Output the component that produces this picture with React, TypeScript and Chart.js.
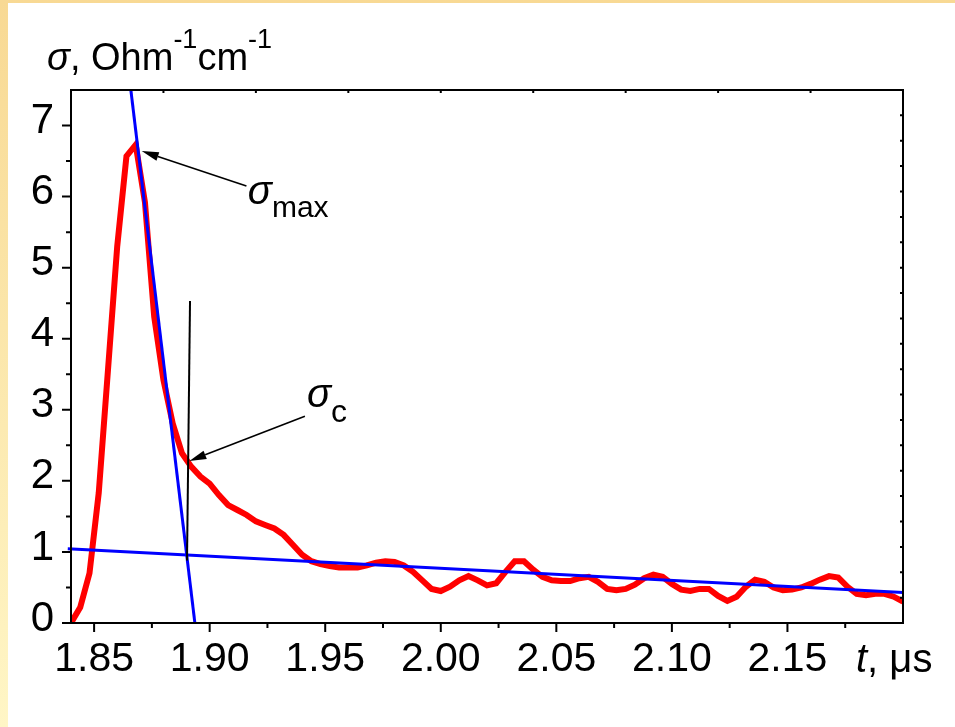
import React, { useEffect, useRef } from "react";
import { Chart, registerables } from "chart.js";

Chart.register(...registerables);

const FONT = "'Liberation Sans', Arial, Helvetica, sans-serif";

// Measured conductivity trace (time in microseconds, sigma in Ohm^-1 cm^-1)
const timeUs = [
  1.840, 1.844, 1.848, 1.852, 1.856, 1.860, 1.864, 1.868, 1.872, 1.876,
  1.880, 1.884, 1.888, 1.892, 1.896, 1.900, 1.904, 1.908, 1.912, 1.916,
  1.920, 1.924, 1.928, 1.932, 1.936, 1.940, 1.944, 1.948, 1.952, 1.956,
  1.960, 1.964, 1.968, 1.972, 1.976, 1.980, 1.984, 1.988, 1.992, 1.996,
  2.000, 2.004, 2.008, 2.012, 2.016, 2.020, 2.024, 2.028, 2.032, 2.036,
  2.040, 2.044, 2.048, 2.052, 2.056, 2.060, 2.064, 2.068, 2.072, 2.076,
  2.080, 2.084, 2.088, 2.092, 2.096, 2.100, 2.104, 2.108, 2.112, 2.116,
  2.120, 2.124, 2.128, 2.132, 2.136, 2.140, 2.144, 2.148, 2.152, 2.156,
  2.160, 2.164, 2.168, 2.172, 2.176, 2.180, 2.184, 2.188, 2.192, 2.196,
  2.200,
];
const sigma = [
  0.00, 0.22, 0.70, 1.83, 3.56, 5.30, 6.57, 6.73, 5.92, 4.31,
  3.42, 2.81, 2.39, 2.20, 2.06, 1.96, 1.80, 1.66, 1.59, 1.52,
  1.43, 1.38, 1.33, 1.24, 1.10, 0.96, 0.87, 0.83, 0.80, 0.78,
  0.78, 0.78, 0.81, 0.85, 0.87, 0.86, 0.81, 0.72, 0.60, 0.48,
  0.45, 0.51, 0.60, 0.66, 0.60, 0.53, 0.56, 0.72, 0.87, 0.87,
  0.75, 0.65, 0.60, 0.59, 0.59, 0.63, 0.65, 0.58, 0.48, 0.46,
  0.48, 0.54, 0.63, 0.68, 0.65, 0.55, 0.47, 0.45, 0.48, 0.48,
  0.38, 0.31, 0.37, 0.51, 0.61, 0.58, 0.50, 0.46, 0.47, 0.50,
  0.55, 0.61, 0.66, 0.64, 0.51, 0.41, 0.39, 0.41, 0.41, 0.37,
  0.30,
];

// Fitted straight lines
const steepFitT = [1.8659, 1.8936];
const steepFitS = [7.5, 0];
const tailFitT = [1.8386, 2.2];
const tailFitS = [1.045, 0.43];
// Black vertical marker line
const markerT = [1.8915, 1.8902];
const markerS = [4.53, 0.88];

// Axis ticks
const xTickValues = [1.85, 1.9, 1.95, 2.0, 2.05, 2.1, 2.15];
const xMinorTicks = [1.875, 1.925, 1.975, 2.025, 2.075, 2.125, 2.175];
const yTickValues = [0, 1, 2, 3, 4, 5, 6, 7];
const yMinorTicks = [0.5, 1.5, 2.5, 3.5, 4.5, 5.5, 6.5];
const topFrameTicks = [1.88, 1.92, 1.96, 2.0, 2.04, 2.08, 2.12, 2.16];
const rightFrameTicks = [
  0.357, 0.714, 1.071, 1.429, 1.786, 2.143, 2.5, 2.857, 3.214, 3.571,
  3.929, 4.286, 4.643, 5.0, 5.357, 5.714, 6.071, 6.429, 6.786, 7.143,
];

// Annotations (data coordinates: [t, sigma])
const arrowMaxTail = [1.9159, 6.15];
const arrowMaxTip = [1.8706, 6.64];
const arrowCTail = [1.9412, 2.91];
const arrowCTip = [1.8912, 2.28];
const labelMaxPos = [1.9165, 5.89];
const labelCPos = [1.9421, 3.04];

type Part = [string, string, number];

function rich(ctx: CanvasRenderingContext2D, x: number, y: number, parts: Part[]) {
  let cx = x;
  for (const [t, f, dy] of parts) {
    ctx.font = f;
    ctx.fillText(t, cx, y + dy);
    cx += ctx.measureText(t).width;
  }
}

function arrow(ctx: CanvasRenderingContext2D, x0: number, y0: number, x1: number, y1: number) {
  const ang = Math.atan2(y1 - y0, x1 - x0);
  const L = 17;
  const W = 4.5;
  const bx = x1 - L * Math.cos(ang);
  const by = y1 - L * Math.sin(ang);
  ctx.lineWidth = 1.6;
  ctx.beginPath();
  ctx.moveTo(x0, y0);
  ctx.lineTo(bx, by);
  ctx.stroke();
  ctx.beginPath();
  ctx.moveTo(x1, y1);
  ctx.lineTo(bx - W * Math.sin(ang), by + W * Math.cos(ang));
  ctx.lineTo(bx + W * Math.sin(ang), by - W * Math.cos(ang));
  ctx.closePath();
  ctx.fill();
}

const decor = {
  id: "decor",
  afterDatasetsDraw(chart: any) {
    const { ctx, chartArea: a, scales } = chart;
    const x = scales.x;
    const y = scales.y;
    ctx.save();
    ctx.strokeStyle = "#000";
    ctx.fillStyle = "#000";
    ctx.lineWidth = 2;
    ctx.lineCap = "butt";
    ctx.beginPath();
    ctx.rect(a.left, a.top, a.right - a.left, a.bottom - a.top);
    ctx.stroke();

    ctx.beginPath();
    for (const v of xTickValues) {
      const p = x.getPixelForValue(v);
      ctx.moveTo(p, a.bottom);
      ctx.lineTo(p, a.bottom + 9);
    }
    for (const v of xMinorTicks) {
      const p = x.getPixelForValue(v);
      ctx.moveTo(p, a.bottom);
      ctx.lineTo(p, a.bottom + 5);
    }
    for (const v of yTickValues) {
      const p = y.getPixelForValue(v);
      ctx.moveTo(a.left, p);
      ctx.lineTo(a.left - 9, p);
    }
    for (const v of yMinorTicks) {
      const p = y.getPixelForValue(v);
      ctx.moveTo(a.left, p);
      ctx.lineTo(a.left - 5, p);
    }
    for (const v of topFrameTicks) {
      const p = x.getPixelForValue(v);
      ctx.moveTo(p, a.top);
      ctx.lineTo(p, a.top + 3);
    }
    for (const v of rightFrameTicks) {
      const p = y.getPixelForValue(v);
      ctx.moveTo(a.right, p);
      ctx.lineTo(a.right - 3, p);
    }
    ctx.stroke();

    arrow(ctx,
      x.getPixelForValue(arrowMaxTail[0]), y.getPixelForValue(arrowMaxTail[1]),
      x.getPixelForValue(arrowMaxTip[0]), y.getPixelForValue(arrowMaxTip[1]));
    arrow(ctx,
      x.getPixelForValue(arrowCTail[0]), y.getPixelForValue(arrowCTail[1]),
      x.getPixelForValue(arrowCTip[0]), y.getPixelForValue(arrowCTip[1]));

    ctx.textAlign = "left";
    ctx.textBaseline = "alphabetic";
    rich(ctx, x.getPixelForValue(labelMaxPos[0]), y.getPixelForValue(labelMaxPos[1]), [
      ["σ", `italic 40px ${FONT}`, 0],
      ["max", `30px ${FONT}`, 13],
    ]);
    rich(ctx, x.getPixelForValue(labelCPos[0]), y.getPixelForValue(labelCPos[1]), [
      ["σ", `italic 40px ${FONT}`, 0],
      ["c", `32px ${FONT}`, 15],
    ]);

    // Axis titles
    rich(ctx, a.left - 24, a.top - 20, [
      ["σ", `italic 38px ${FONT}`, 0],
      [", Ohm", `38px ${FONT}`, 0],
      ["-1", `27px ${FONT}`, -22],
      ["cm", `38px ${FONT}`, 0],
      ["-1", `27px ${FONT}`, -22],
    ]);
    rich(ctx, a.right - 47, a.bottom + 49, [
      ["t", `italic 40px ${FONT}`, 0],
      [", μs", `40px ${FONT}`, 0],
    ]);
    ctx.restore();
  },
};

export default function App() {
  const ref = useRef<HTMLCanvasElement>(null);

  useEffect(() => {
    const canvas = ref.current;
    if (!canvas) return;
    const pts = (xs: number[], ys: number[]) => xs.map((v, i) => ({ x: v, y: ys[i] }));
    const chart = new Chart(canvas, {
      type: "line",
      data: {
        datasets: [
          {
            data: pts(steepFitT, steepFitS),
            borderColor: "#0000ff",
            borderWidth: 3,
            pointRadius: 0,
            order: 1,
          },
          {
            data: pts(tailFitT, tailFitS),
            borderColor: "#0000ff",
            borderWidth: 3,
            pointRadius: 0,
            order: 1,
            clip: { left: 6, right: 0, top: 0, bottom: 0 },
          },
          {
            data: pts(markerT, markerS),
            borderColor: "#000000",
            borderWidth: 2,
            pointRadius: 0,
            order: 0,
          },
          {
            data: pts(timeUs, sigma),
            borderColor: "#ff0000",
            borderWidth: 6,
            pointRadius: 0,
            order: 2,
          },
        ],
      } as any,
      options: {
        animation: false,
        responsive: false,
        devicePixelRatio: 1,
        layout: { padding: { top: 90, right: 52, left: 0, bottom: 0 } },
        plugins: { legend: { display: false }, tooltip: { enabled: false } },
        elements: { line: { tension: 0 } },
        scales: {
          x: {
            type: "linear",
            min: 1.84,
            max: 2.2,
            afterBuildTicks: (s: any) => {
              s.ticks = xTickValues.map((v) => ({ value: v }));
            },
            afterFit: (s: any) => {
              s.height = 104;
            },
            grid: { display: false, drawTicks: false },
            border: { display: false },
            ticks: {
              padding: 12,
              color: "#000",
              font: { family: FONT, size: 41 },
              maxRotation: 0,
              autoSkip: false,
              callback: (v: any) => Number(v).toFixed(2),
            },
          },
          y: {
            type: "linear",
            min: 0,
            max: 7.5,
            afterBuildTicks: (s: any) => {
              s.ticks = yTickValues.map((v) => ({ value: v }));
            },
            afterFit: (s: any) => {
              s.width = 71;
            },
            grid: { display: false, drawTicks: false },
            border: { display: false },
            ticks: {
              padding: 17,
              labelOffset: -4,
              color: "#000",
              font: { family: FONT, size: 42 },
              autoSkip: false,
              callback: (v: any) => String(v),
            },
          },
        },
      } as any,
      plugins: [decor],
    });
    return () => chart.destroy();
  }, []);

  return (
    <div
      style={{
        position: "absolute",
        left: 0,
        top: 0,
        width: 955,
        height: 727,
        overflow: "hidden",
        background: "linear-gradient(to bottom, #f8d994 0%, #fbe6aa 45%, #fff6c6 100%)",
      }}
    >
      <div
        style={{
          position: "absolute",
          left: 8,
          top: 3,
          right: 0,
          bottom: 0,
          background: "#ffffff",
        }}
      />
      <canvas
        ref={ref}
        width={955}
        height={727}
        style={{ position: "absolute", left: 0, top: 0, width: 955, height: 727 }}
      />
    </div>
  );
}
